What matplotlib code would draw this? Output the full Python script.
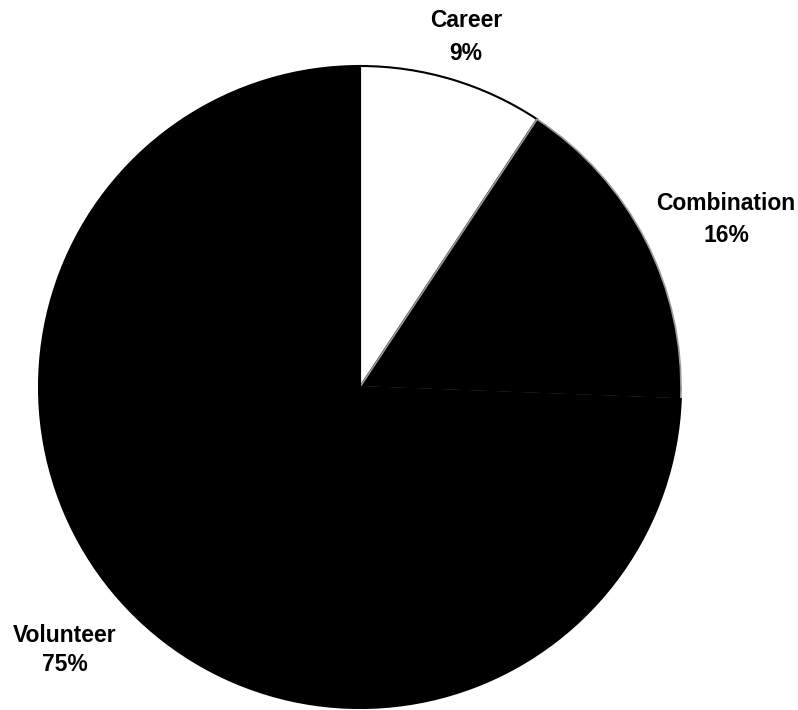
import matplotlib
matplotlib.use("Agg")
import matplotlib.pyplot as plt

categories = ["Career", "Combination", "Volunteer"]
values = [9.3, 16.3, 74.4]
pct_labels = ["9%", "16%", "75%"]
colors = ["#ffffff", "#000000", "#000000"]

W, H = 798, 710
fig = plt.figure(figsize=(W / 100, H / 100), dpi=100)
ax = fig.add_axes([0, 0, 1, 1])

cx, cy, r = 360, H - 387, 321
wedges, _ = ax.pie(values, colors=colors, startangle=90, counterclock=False,
                   center=(cx, cy), radius=r, frame=True,
                   wedgeprops=dict(edgecolor="black", linewidth=1.5))
wedges[1].set_edgecolor("#9a9a9a")
wedges[1].set_linewidth(1.2)
ax.set_xlim(0, W)
ax.set_ylim(0, H)
ax.set_aspect("equal")
ax.axis("off")

# (x centre, baseline of name, baseline of percentage) in pixels from top
label_pos = [(466, 27, 60), (726, 210, 242), (65, 642, 671)]
for cat, pct, (x, y1, y2) in zip(categories, pct_labels, label_pos):
    for s, y in ((cat, y1), (pct, y2)):
        ax.text(x, H - y, s, ha="center", va="baseline",
                fontsize=16.5, fontweight="bold", family="Liberation Sans")

fig.savefig("out.png", dpi=100)
